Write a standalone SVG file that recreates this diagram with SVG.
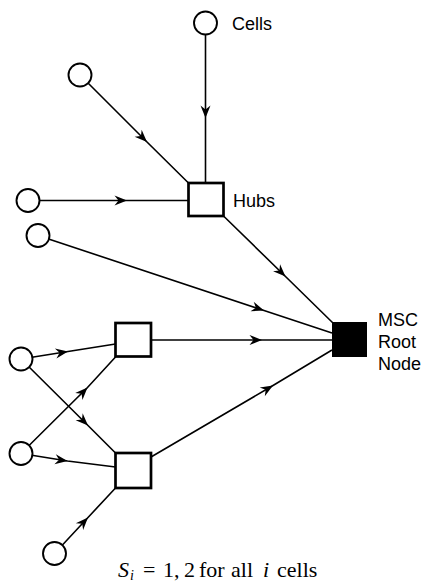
<svg xmlns="http://www.w3.org/2000/svg" width="425" height="585" viewBox="0 0 425 585">
<defs>
<marker id="ah" markerWidth="16" markerHeight="12" viewBox="-14 -6 16 12" refX="0" refY="0" orient="auto" markerUnits="userSpaceOnUse">
<path d="M0,0 L-12.5,-5 L-8.5,0 L-12.5,5 Z" fill="#000"/>
</marker>
<style>
.e{fill:none;stroke:#000;stroke-width:1.6;marker-mid:url(#ah)}
.cell{fill:#fff;stroke:#000;stroke-width:1.9}
.hub{fill:#fff;stroke:#000;stroke-width:2.7}
.root{fill:#000;stroke:#000;stroke-width:1}
.lbl{font-family:"Liberation Sans",Arial,sans-serif;font-size:18px;fill:#000}
.cap{font-family:"Liberation Serif","Times New Roman",serif;font-size:22px;fill:#000}
</style>
</defs>
<rect width="425" height="585" fill="#fff"/>
<g id="connectors">
<path class="e" d="M205.5,23 L205.5,118 L205.5,183"/>
<path class="e" d="M80,75 L147,142 L188.5,183"/>
<path class="e" d="M28,200.5 L127,200.5 L188.5,200.5"/>
<path class="e" d="M223.5,216 L285.5,276.5 L334,324"/>
<path class="e" d="M38,235.5 L264,310.5 L332,333"/>
<path class="e" d="M151,340 L262,340 L332,340"/>
<path class="e" d="M151,457 L273,385.5 L332,350"/>
<path class="e" d="M21,359 L68,351.5 L115.5,344"/>
<path class="e" d="M21,359 L88,425.5 L115.5,453"/>
<path class="e" d="M21,453.5 L87.5,387.5 L115.5,357"/>
<path class="e" d="M21,453.5 L67.5,461 L115.5,467"/>
<path class="e" d="M54.5,553.5 L88,517.5 L115.5,488"/>
</g>
<g id="cell-top"><circle class="cell" cx="205.5" cy="23" r="11.5"/></g>
<g id="cells-label"><text class="lbl" x="232" y="30">Cells</text></g>
<g id="cell-2"><circle class="cell" cx="80" cy="75" r="11.5"/></g>
<g id="cell-3"><circle class="cell" cx="28" cy="200.5" r="11.5"/></g>
<g id="cell-4"><circle class="cell" cx="38" cy="235.5" r="11.5"/></g>
<g id="cell-5"><circle class="cell" cx="21" cy="359" r="11.5"/></g>
<g id="cell-6"><circle class="cell" cx="21" cy="453.5" r="11.5"/></g>
<g id="cell-7"><circle class="cell" cx="54.5" cy="553.5" r="11.5"/></g>
<g id="hub-1"><rect class="hub" x="188.5" y="183" width="35" height="33"/><text class="lbl" x="233" y="207">Hubs</text></g>
<g id="hub-2"><rect class="hub" x="115.5" y="323" width="35.5" height="33.5"/></g>
<g id="hub-3"><rect class="hub" x="115.5" y="453" width="35.5" height="35"/></g>
<g id="msc"><rect class="root" x="332.5" y="322.5" width="34" height="34"/>
<text class="lbl" x="378" y="326">MSC</text>
<text class="lbl" x="378" y="348">Root</text>
<text class="lbl" x="378" y="370">Node</text></g>
<g id="caption"><text class="cap" y="577"><tspan x="118" font-style="italic">S</tspan><tspan x="130" font-style="italic" font-size="14" dy="3">i</tspan><tspan x="143" dy="-3">=</tspan><tspan x="163">1,</tspan><tspan x="184">2</tspan><tspan x="199">for</tspan><tspan x="231">all</tspan><tspan x="263" font-style="italic">i</tspan><tspan x="277">cells</tspan></text></g>
</svg>
